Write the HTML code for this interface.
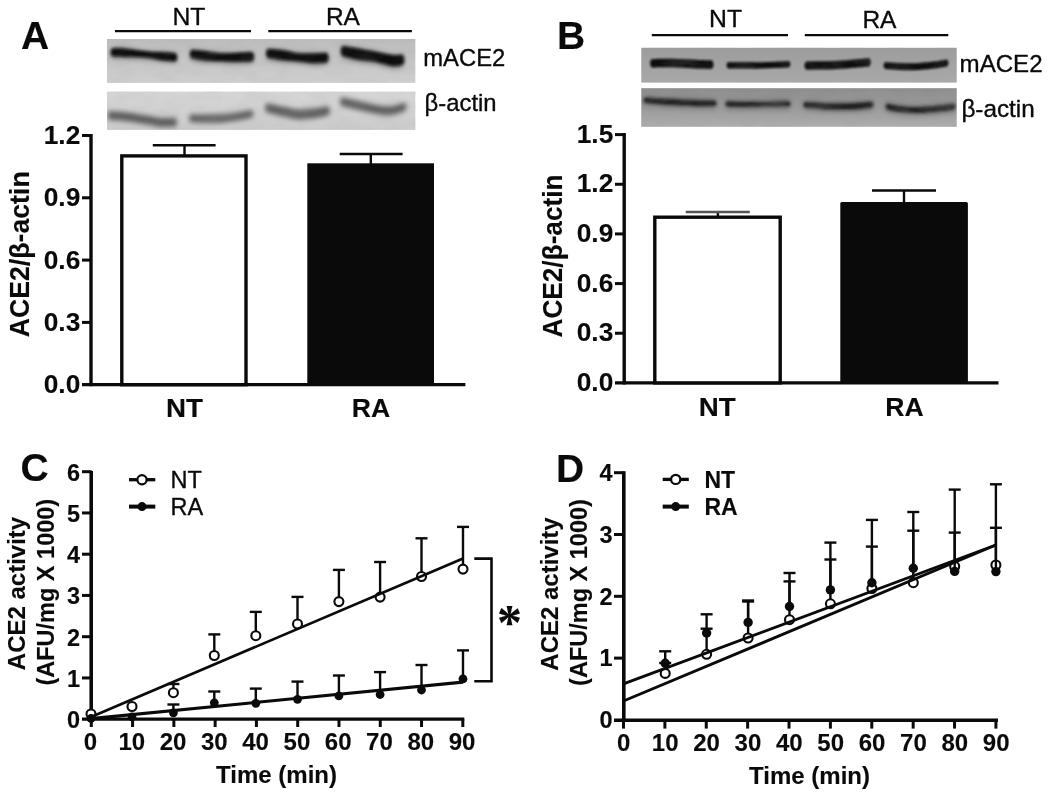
<!DOCTYPE html>
<html lang="en"><head><meta charset="utf-8"><title>ACE2 expression and activity in NT and RA cells</title>
<style>
html,body{margin:0;padding:0;background:#fff;}
body{width:1050px;height:796px;overflow:hidden;font-family:"Liberation Sans",Arial,sans-serif;}
svg{display:block;filter:blur(0.45px);}
</style></head><body>
<svg width="1050" height="796" viewBox="0 0 1050 796" font-family="Liberation Sans, Arial, sans-serif" fill="#0a0a0a">
<style>text{stroke:#0a0a0a;stroke-width:0.35px;stroke-linejoin:round}text[font-weight=bold]{stroke-width:0.12px}</style>
<defs>
<filter id="b1" x="-20%" y="-100%" width="140%" height="300%"><feGaussianBlur stdDeviation="1.6"/></filter>
<filter id="b2" x="-20%" y="-100%" width="140%" height="300%"><feGaussianBlur stdDeviation="2.6"/></filter>
<filter id="b3" x="-20%" y="-100%" width="140%" height="300%"><feGaussianBlur stdDeviation="1.2"/></filter>
<filter id="noise" x="0" y="0" width="100%" height="100%"><feTurbulence type="fractalNoise" baseFrequency="0.045 0.09" numOctaves="3" seed="7" result="t"/><feColorMatrix type="matrix" values="0 0 0 0 0.35  0 0 0 0 0.35  0 0 0 0 0.35  1.6 0 0 0 -0.55"/></filter>
<filter id="soft" x="-5%" y="-5%" width="110%" height="110%"><feGaussianBlur stdDeviation="0.5"/></filter>
<linearGradient id="gA1" x1="0" y1="0" x2="0" y2="1"><stop offset="0" stop-color="#bdbdbd"/><stop offset="1" stop-color="#cfcfcf"/></linearGradient>
<linearGradient id="gA2" x1="0" y1="0" x2="0" y2="1"><stop offset="0" stop-color="#d6d6d6"/><stop offset="1" stop-color="#cccccc"/></linearGradient>
<linearGradient id="gB1" x1="0" y1="0" x2="0" y2="1"><stop offset="0" stop-color="#9c9c9c"/><stop offset="1" stop-color="#a9a9a9"/></linearGradient>
<linearGradient id="gB2" x1="0" y1="0" x2="0" y2="1"><stop offset="0" stop-color="#8c8c8c"/><stop offset="0.5" stop-color="#9a9a9a"/><stop offset="1" stop-color="#aeaeae"/></linearGradient>
<clipPath id="cA1"><rect x="107" y="39" width="308.3" height="43.9"/></clipPath><clipPath id="cA2"><rect x="107" y="91.6" width="308.3" height="38.3"/></clipPath><clipPath id="cB1"><rect x="641.3" y="47.8" width="315.4" height="34.8"/></clipPath><clipPath id="cB2"><rect x="641.3" y="88.2" width="315.4" height="38.6"/></clipPath>
</defs>
<rect width="1050" height="796" fill="#ffffff"/>
<text x="21" y="48.8" font-size="39" font-weight="bold" text-anchor="start" >A</text>
<text x="189" y="24.9" font-size="24.5" text-anchor="middle" textLength="33" lengthAdjust="spacingAndGlyphs" >NT</text>
<text x="342.9" y="25.1" font-size="24.5" text-anchor="middle" >RA</text>
<line x1="115" y1="31.1" x2="251" y2="31.1" stroke="#0a0a0a" stroke-width="2.4" stroke-linecap="butt"/>
<line x1="268.3" y1="31.1" x2="411.9" y2="31.1" stroke="#0a0a0a" stroke-width="2.4" stroke-linecap="butt"/>
<g filter="url(#soft)">
<rect x="107" y="39" width="308.3" height="43.9" fill="url(#gA1)"/>
<rect x="107" y="91.6" width="308.3" height="38.3" fill="url(#gA2)"/>
</g>
<g clip-path="url(#cA1)">
<path d="M112.2,48.0 C114.2,48.0 119.9,47.7 124.0,48.0 C128.1,48.3 132.3,49.2 136.6,49.8 C140.9,50.4 145.9,51.1 150.0,51.4 C154.1,51.7 156.7,51.5 161.0,51.7 C165.3,51.9 173.2,52.5 175.6,52.7 Q178.6,58.1 175.6,63.5 C173.2,63.3 165.3,62.7 161.0,62.1 C156.7,61.5 154.1,60.5 150.0,60.0 C145.9,59.5 140.9,59.4 136.6,59.2 C132.3,59.0 128.1,59.1 124.0,59.0 C119.9,58.9 114.2,58.7 112.2,58.6 Q109.2,53.3 112.2,48.0Z" fill="#3a3a3a" filter="url(#b2)" opacity="0.55"/>
<path d="M112.2,48.5 C114.2,48.5 119.9,48.2 124.0,48.5 C128.1,48.8 132.3,49.6 136.6,50.2 C140.9,50.7 145.9,51.4 150.0,51.7 C154.1,52.0 156.7,51.9 161.0,52.1 C165.3,52.4 173.2,53.0 175.6,53.2 Q178.6,57.2 175.6,61.2 C173.2,61.0 165.3,60.4 161.0,59.9 C156.7,59.3 154.1,58.4 150.0,57.9 C145.9,57.4 140.9,57.2 136.6,57.0 C132.3,56.8 128.1,56.8 124.0,56.7 C119.9,56.6 114.2,56.4 112.2,56.3 Q109.2,52.4 112.2,48.5Z" fill="#0b0b0b" filter="url(#b1)" opacity="1"/>
<path d="M191.5,49.3 C194.0,49.5 201.6,50.2 206.7,50.8 C211.8,51.4 216.9,52.5 222.0,52.8 C227.1,53.1 232.1,52.6 237.2,52.4 C242.3,52.2 249.9,51.9 252.4,51.8 Q255.4,57.7 252.4,63.6 C249.9,63.7 242.3,64.0 237.2,64.0 C232.1,64.0 227.1,63.6 222.0,63.4 C216.9,63.2 211.8,63.5 206.7,63.0 C201.6,62.5 194.0,60.9 191.5,60.5 Q188.5,54.9 191.5,49.3Z" fill="#3a3a3a" filter="url(#b2)" opacity="0.55"/>
<path d="M191.5,49.8 C194.0,50.1 201.6,50.8 206.7,51.4 C211.8,52.0 216.9,53.0 222.0,53.3 C227.1,53.5 232.1,53.1 237.2,52.9 C242.3,52.8 249.9,52.4 252.4,52.3 Q255.4,56.8 252.4,61.3 C249.9,61.3 242.3,61.7 237.2,61.7 C232.1,61.7 227.1,61.3 222.0,61.1 C216.9,61.0 211.8,61.1 206.7,60.6 C201.6,60.1 194.0,58.6 191.5,58.2 Q188.5,54.0 191.5,49.8Z" fill="#0b0b0b" filter="url(#b1)" opacity="1"/>
<path d="M267.7,48.5 C270.2,48.7 277.9,49.0 283.0,49.7 C288.1,50.4 293.1,52.3 298.2,52.8 C303.3,53.3 308.6,52.9 313.4,52.8 C318.2,52.7 324.7,52.4 327.0,52.3 Q330.0,58.5 327.0,64.7 C324.7,64.8 318.2,65.6 313.4,65.4 C308.6,65.2 303.3,64.1 298.2,63.6 C293.1,63.1 288.1,63.1 283.0,62.5 C277.9,61.9 270.2,60.5 267.7,60.1 Q264.7,54.3 267.7,48.5Z" fill="#3a3a3a" filter="url(#b2)" opacity="0.55"/>
<path d="M267.7,49.0 C270.2,49.2 277.9,49.6 283.0,50.3 C288.1,51.0 293.1,52.8 298.2,53.3 C303.3,53.8 308.6,53.5 313.4,53.4 C318.2,53.4 324.7,53.0 327.0,52.9 Q330.0,57.6 327.0,62.3 C324.7,62.4 318.2,63.1 313.4,63.0 C308.6,62.8 303.3,61.8 298.2,61.3 C293.1,60.8 288.1,60.7 283.0,60.1 C277.9,59.5 270.2,58.2 267.7,57.8 Q264.7,53.4 267.7,49.0Z" fill="#0b0b0b" filter="url(#b1)" opacity="1"/>
<path d="M342.4,45.5 C345.2,45.9 353.7,47.2 359.0,48.1 C364.3,49.0 368.8,49.9 374.4,51.0 C380.0,52.1 388.0,54.0 392.7,54.5 C397.4,55.0 401.0,54.2 402.7,54.1 Q405.7,60.7 402.7,67.3 C401.0,67.5 397.4,69.0 392.7,68.5 C388.0,68.0 380.0,65.0 374.4,64.0 C368.8,63.0 364.3,63.2 359.0,62.3 C353.7,61.3 345.2,59.0 342.4,58.3 Q339.4,51.9 342.4,45.5Z" fill="#3a3a3a" filter="url(#b2)" opacity="0.55"/>
<path d="M342.4,46.1 C345.2,46.6 353.7,47.9 359.0,48.8 C364.3,49.8 368.8,50.6 374.4,51.6 C380.0,52.7 388.0,54.7 392.7,55.2 C397.4,55.7 401.0,54.8 402.7,54.8 Q405.7,59.8 402.7,64.8 C401.0,65.0 397.4,66.5 392.7,66.0 C388.0,65.4 380.0,62.6 374.4,61.6 C368.8,60.5 364.3,60.7 359.0,59.8 C353.7,58.8 345.2,56.5 342.4,55.9 Q339.4,51.0 342.4,46.1Z" fill="#0b0b0b" filter="url(#b1)" opacity="1"/>
</g><g clip-path="url(#cA2)">
<path d="M109.0,111.1 C111.5,111.3 119.3,111.6 124.0,112.1 C128.7,112.6 132.7,113.3 137.0,113.9 C141.3,114.5 146.0,115.2 150.0,115.9 C154.0,116.6 156.8,117.6 161.0,117.9 C165.2,118.2 173.1,117.7 175.5,117.7 Q178.5,122.2 175.5,126.7 C173.1,126.7 165.2,127.2 161.0,126.9 C156.8,126.6 154.0,125.6 150.0,124.9 C146.0,124.2 141.3,123.5 137.0,122.9 C132.7,122.3 128.7,121.6 124.0,121.1 C119.3,120.6 111.5,120.3 109.0,120.1 Q106.0,115.6 109.0,111.1Z" fill="#5c5c5c" filter="url(#b2)" opacity="1"/>
<path d="M190.5,114.2 C193.1,114.2 200.8,114.5 206.0,114.5 C211.2,114.5 216.8,114.5 222.0,114.1 C227.2,113.8 232.0,113.1 237.0,112.4 C242.0,111.7 249.5,110.2 252.0,109.8 Q255.0,113.8 252.0,117.8 C249.5,118.3 242.0,120.0 237.0,120.8 C232.0,121.6 227.2,122.3 222.0,122.7 C216.8,123.1 211.2,123.1 206.0,123.1 C200.8,123.1 193.1,122.7 190.5,122.6 Q187.5,118.4 190.5,114.2Z" fill="#626262" filter="url(#b2)" opacity="1"/>
<path d="M266.5,103.0 C269.2,103.6 277.8,105.5 283.0,106.6 C288.2,107.7 293.0,109.1 298.0,109.4 C303.0,109.7 307.9,109.2 313.0,108.6 C318.1,108.0 325.9,106.4 328.5,106.0 Q331.5,110.8 328.5,115.6 C325.9,116.1 318.1,118.0 313.0,118.6 C307.9,119.2 303.0,119.7 298.0,119.4 C293.0,119.1 288.2,117.7 283.0,116.6 C277.8,115.5 269.2,113.3 266.5,112.6 Q263.5,107.8 266.5,103.0Z" fill="#5e5e5e" filter="url(#b2)" opacity="1"/>
<path d="M341.5,97.3 C344.4,97.9 353.6,99.9 359.0,101.1 C364.4,102.3 368.8,103.6 374.0,104.5 C379.2,105.4 384.8,106.6 390.0,106.3 C395.2,106.0 402.5,103.1 405.0,102.5 Q408.0,106.8 405.0,111.1 C402.5,111.8 395.2,114.9 390.0,115.3 C384.8,115.7 379.2,114.4 374.0,113.5 C368.8,112.6 364.4,111.4 359.0,110.1 C353.6,108.8 344.4,106.6 341.5,105.9 Q338.5,101.6 341.5,97.3Z" fill="#5c5c5c" filter="url(#b2)" opacity="1"/>
</g>
<rect x="107" y="39" width="308.3" height="43.9" filter="url(#noise)" opacity="0.16"/>
<rect x="107" y="91.6" width="308.3" height="38.3" filter="url(#noise)" opacity="0.16"/>
<text x="423.3" y="66.4" font-size="24.5" text-anchor="start" textLength="82" lengthAdjust="spacingAndGlyphs" >mACE2</text>
<text x="424.6" y="111" font-size="24.5" text-anchor="start" textLength="72" lengthAdjust="spacingAndGlyphs" >β-actin</text>
<line x1="91" y1="134" x2="91" y2="386.2" stroke="#0a0a0a" stroke-width="3.4" stroke-linecap="butt"/>
<line x1="82" y1="384.7" x2="465.4" y2="384.7" stroke="#0a0a0a" stroke-width="3.2" stroke-linecap="butt"/>
<line x1="82" y1="135.5" x2="91" y2="135.5" stroke="#0a0a0a" stroke-width="3" stroke-linecap="butt"/>
<line x1="82" y1="197.8" x2="91" y2="197.8" stroke="#0a0a0a" stroke-width="3" stroke-linecap="butt"/>
<line x1="82" y1="260.1" x2="91" y2="260.1" stroke="#0a0a0a" stroke-width="3" stroke-linecap="butt"/>
<line x1="82" y1="322.4" x2="91" y2="322.4" stroke="#0a0a0a" stroke-width="3" stroke-linecap="butt"/>
<text x="80.3" y="143.9" font-size="26.3" font-weight="bold" text-anchor="end" >1.2</text>
<text x="80.3" y="206.20000000000002" font-size="26.3" font-weight="bold" text-anchor="end" >0.9</text>
<text x="80.3" y="268.5" font-size="26.3" font-weight="bold" text-anchor="end" >0.6</text>
<text x="80.3" y="330.79999999999995" font-size="26.3" font-weight="bold" text-anchor="end" >0.3</text>
<text x="80.3" y="393.09999999999997" font-size="26.3" font-weight="bold" text-anchor="end" >0.0</text>
<text transform="translate(29,254.3) rotate(-90)" font-size="27" font-weight="bold" text-anchor="middle" textLength="166" lengthAdjust="spacingAndGlyphs">ACE2/β-actin</text>
<rect x="121.8" y="155.9" width="124.2" height="228.8" fill="#fff" stroke="#0a0a0a" stroke-width="3.4"/>
<rect x="307.3" y="163.3" width="126.7" height="221.4" fill="#0a0a0a"/>
<line x1="184.5" y1="145.2" x2="184.5" y2="155" stroke="#0a0a0a" stroke-width="2.4" stroke-linecap="butt"/>
<line x1="152.8" y1="145.2" x2="215.6" y2="145.2" stroke="#0a0a0a" stroke-width="2.4" stroke-linecap="butt"/>
<line x1="370.8" y1="154" x2="370.8" y2="164" stroke="#0a0a0a" stroke-width="2.4" stroke-linecap="butt"/>
<line x1="339.7" y1="154" x2="402.6" y2="154" stroke="#0a0a0a" stroke-width="2.4" stroke-linecap="butt"/>
<text x="184.5" y="416.9" font-size="26.6" font-weight="bold" text-anchor="middle" textLength="37" lengthAdjust="spacingAndGlyphs" >NT</text>
<text x="370.9" y="416.9" font-size="26.6" font-weight="bold" text-anchor="middle" >RA</text>
<text x="557" y="48.6" font-size="39" font-weight="bold" text-anchor="start" >B</text>
<text x="725.6" y="27.3" font-size="24.5" text-anchor="middle" textLength="33" lengthAdjust="spacingAndGlyphs" >NT</text>
<text x="879.4" y="27.5" font-size="24.5" text-anchor="middle" >RA</text>
<line x1="651.8" y1="35.1" x2="788" y2="35.1" stroke="#0a0a0a" stroke-width="2.4" stroke-linecap="butt"/>
<line x1="804.8" y1="35.1" x2="948.3" y2="35.1" stroke="#0a0a0a" stroke-width="2.4" stroke-linecap="butt"/>
<g filter="url(#soft)">
<rect x="641.3" y="47.8" width="315.4" height="34.8" fill="url(#gB1)"/>
<rect x="641.3" y="88.2" width="315.4" height="38.6" fill="url(#gB2)"/>
</g>
<g clip-path="url(#cB1)">
<path d="M651.5,58.9 C653.8,58.9 659.9,58.7 665.0,58.7 C670.1,58.7 676.2,58.9 682.0,59.1 C687.8,59.3 695.0,59.9 700.0,60.1 C705.0,60.3 710.0,60.3 712.0,60.3 Q715.0,64.6 712.0,68.9 C710.0,68.9 705.0,68.9 700.0,68.7 C695.0,68.5 687.8,67.9 682.0,67.7 C676.2,67.5 670.1,67.3 665.0,67.3 C659.9,67.3 653.8,67.5 651.5,67.5 Q648.5,63.2 651.5,58.9Z" fill="#0a0a0a" filter="url(#b3)" opacity="1"/>
<path d="M728.0,62.0 C730.8,62.0 739.7,62.1 745.0,62.1 C750.3,62.1 755.0,62.3 760.0,62.2 C765.0,62.1 770.2,61.9 775.0,61.7 C779.8,61.5 786.7,61.1 789.0,61.0 Q792.0,64.2 789.0,67.4 C786.7,67.5 779.8,67.9 775.0,68.1 C770.2,68.3 765.0,68.5 760.0,68.6 C755.0,68.7 750.3,68.5 745.0,68.5 C739.7,68.5 730.8,68.4 728.0,68.4 Q725.0,65.2 728.0,62.0Z" fill="#0a0a0a" filter="url(#b3)" opacity="1"/>
<path d="M806.0,61.5 C808.7,61.5 816.7,61.4 822.0,61.3 C827.3,61.2 832.5,61.0 838.0,60.7 C843.5,60.4 849.8,59.9 855.0,59.5 C860.2,59.1 867.0,58.5 869.4,58.3 Q872.4,62.4 869.4,66.5 C867.0,66.7 860.2,67.3 855.0,67.7 C849.8,68.1 843.5,68.6 838.0,68.9 C832.5,69.2 827.3,69.4 822.0,69.5 C816.7,69.6 808.7,69.7 806.0,69.7 Q803.0,65.6 806.0,61.5Z" fill="#0a0a0a" filter="url(#b3)" opacity="1"/>
<path d="M885.0,61.9 C887.5,62.1 895.0,62.8 900.0,63.0 C905.0,63.2 909.7,63.4 915.0,63.2 C920.3,63.0 926.7,62.4 932.0,61.8 C937.3,61.2 944.5,59.9 947.0,59.5 Q950.0,63.0 947.0,66.5 C944.5,66.9 937.3,68.2 932.0,68.8 C926.7,69.4 920.3,70.0 915.0,70.2 C909.7,70.4 905.0,70.2 900.0,70.0 C895.0,69.8 887.5,69.1 885.0,68.9 Q882.0,65.4 885.0,61.9Z" fill="#0a0a0a" filter="url(#b3)" opacity="1"/>
</g><g clip-path="url(#cB2)">
<path d="M645.0,95.7 C648.3,95.9 659.2,96.5 665.0,96.8 C670.8,97.2 674.2,97.4 680.0,97.7 C685.8,97.9 694.2,98.3 700.0,98.5 C705.8,98.6 712.5,98.5 715.0,98.5 Q718.0,103.7 715.0,109.0 C712.5,109.0 705.8,109.1 700.0,109.0 C694.2,108.8 685.8,108.4 680.0,108.2 C674.2,107.9 670.8,107.7 665.0,107.3 C659.2,107.0 648.3,106.4 645.0,106.2 Q642.0,100.9 645.0,95.7Z" fill="#4a4a4a" filter="url(#b2)" opacity="0.42"/>
<path d="M727.0,99.2 C730.0,99.3 739.5,99.5 745.0,99.5 C750.5,99.6 755.0,99.5 760.0,99.5 C765.0,99.4 770.2,99.3 775.0,99.2 C779.8,99.2 786.7,99.1 789.0,99.0 Q792.0,104.3 789.0,109.5 C786.7,109.6 779.8,109.7 775.0,109.8 C770.2,109.8 765.0,109.9 760.0,110.0 C755.0,110.0 750.5,110.1 745.0,110.0 C739.5,110.0 730.0,109.8 727.0,109.8 Q724.0,104.5 727.0,99.2Z" fill="#4a4a4a" filter="url(#b2)" opacity="0.42"/>
<path d="M805.0,100.0 C807.8,100.2 816.5,101.0 822.0,101.2 C827.5,101.5 832.5,101.8 838.0,101.8 C843.5,101.9 849.3,101.8 855.0,101.5 C860.7,101.2 869.2,100.3 872.0,100.0 Q875.0,105.3 872.0,110.5 C869.2,110.8 860.7,111.7 855.0,112.0 C849.3,112.2 843.5,112.4 838.0,112.3 C832.5,112.3 827.5,112.0 822.0,111.8 C816.5,111.5 807.8,110.8 805.0,110.5 Q802.0,105.3 805.0,100.0Z" fill="#4a4a4a" filter="url(#b2)" opacity="0.42"/>
<path d="M887.0,102.0 C889.7,102.5 897.5,104.3 903.0,104.8 C908.5,105.4 914.2,105.4 920.0,105.2 C925.8,105.1 932.3,104.4 938.0,103.8 C943.7,103.3 951.3,102.2 954.0,101.8 Q957.0,107.1 954.0,112.3 C951.3,112.7 943.7,113.8 938.0,114.3 C932.3,114.9 925.8,115.6 920.0,115.8 C914.2,115.9 908.5,115.9 903.0,115.3 C897.5,114.8 889.7,113.0 887.0,112.5 Q884.0,107.3 887.0,102.0Z" fill="#4a4a4a" filter="url(#b2)" opacity="0.42"/>
<path d="M645.0,97.6 C648.3,97.8 659.2,98.5 665.0,98.8 C670.8,99.1 674.2,99.3 680.0,99.6 C685.8,99.9 694.2,100.3 700.0,100.4 C705.8,100.5 712.5,100.4 715.0,100.4 Q718.0,103.2 715.0,106.0 C712.5,106.0 705.8,106.1 700.0,106.0 C694.2,105.9 685.8,105.5 680.0,105.2 C674.2,104.9 670.8,104.7 665.0,104.4 C659.2,104.1 648.3,103.4 645.0,103.2 Q642.0,100.4 645.0,97.6Z" fill="#1c1c1c" filter="url(#b1)" opacity="1"/>
<path d="M727.0,101.6 C730.0,101.6 739.5,101.9 745.0,101.9 C750.5,101.9 755.0,101.8 760.0,101.8 C765.0,101.8 770.2,101.7 775.0,101.6 C779.8,101.5 786.7,101.4 789.0,101.4 Q792.0,103.8 789.0,106.2 C786.7,106.2 779.8,106.3 775.0,106.4 C770.2,106.5 765.0,106.6 760.0,106.6 C755.0,106.7 750.5,106.7 745.0,106.7 C739.5,106.7 730.0,106.5 727.0,106.4 Q724.0,104.0 727.0,101.6Z" fill="#222" filter="url(#b1)" opacity="1"/>
<path d="M805.0,101.8 C807.8,102.0 816.5,102.7 822.0,103.0 C827.5,103.3 832.5,103.6 838.0,103.6 C843.5,103.6 849.3,103.5 855.0,103.2 C860.7,102.9 869.2,102.0 872.0,101.8 Q875.0,104.8 872.0,107.8 C869.2,108.0 860.7,108.9 855.0,109.2 C849.3,109.5 843.5,109.6 838.0,109.6 C832.5,109.6 827.5,109.3 822.0,109.0 C816.5,108.7 807.8,108.0 805.0,107.8 Q802.0,104.8 805.0,101.8Z" fill="#1e1e1e" filter="url(#b1)" opacity="1"/>
<path d="M887.0,103.8 C889.7,104.3 897.5,106.1 903.0,106.6 C908.5,107.1 914.2,107.2 920.0,107.0 C925.8,106.8 932.3,106.2 938.0,105.6 C943.7,105.0 951.3,103.9 954.0,103.6 Q957.0,106.6 954.0,109.6 C951.3,109.9 943.7,111.0 938.0,111.6 C932.3,112.2 925.8,112.8 920.0,113.0 C914.2,113.2 908.5,113.1 903.0,112.6 C897.5,112.1 889.7,110.3 887.0,109.8 Q884.0,106.8 887.0,103.8Z" fill="#222" filter="url(#b1)" opacity="1"/>
</g>
<rect x="641.3" y="47.8" width="315.4" height="34.4" filter="url(#noise)" opacity="0.2"/>
<rect x="641.3" y="88.8" width="315.4" height="38" filter="url(#noise)" opacity="0.3"/>
<text x="959.6" y="72.4" font-size="24.5" text-anchor="start" textLength="83" lengthAdjust="spacingAndGlyphs" >mACE2</text>
<text x="961.4" y="117" font-size="24.5" text-anchor="start" textLength="73.4" lengthAdjust="spacingAndGlyphs" >β-actin</text>
<line x1="624.2" y1="133" x2="624.2" y2="384.5" stroke="#0a0a0a" stroke-width="3.4" stroke-linecap="butt"/>
<line x1="615" y1="382.9" x2="998.5" y2="382.9" stroke="#0a0a0a" stroke-width="3.3" stroke-linecap="butt"/>
<line x1="615" y1="333.24" x2="624.2" y2="333.24" stroke="#0a0a0a" stroke-width="3" stroke-linecap="butt"/>
<line x1="615" y1="283.58" x2="624.2" y2="283.58" stroke="#0a0a0a" stroke-width="3" stroke-linecap="butt"/>
<line x1="615" y1="233.92" x2="624.2" y2="233.92" stroke="#0a0a0a" stroke-width="3" stroke-linecap="butt"/>
<line x1="615" y1="184.26" x2="624.2" y2="184.26" stroke="#0a0a0a" stroke-width="3" stroke-linecap="butt"/>
<line x1="615" y1="134.6" x2="624.2" y2="134.6" stroke="#0a0a0a" stroke-width="3" stroke-linecap="butt"/>
<text x="613.3" y="391.09999999999997" font-size="26.3" font-weight="bold" text-anchor="end" >0.0</text>
<text x="613.3" y="341.44" font-size="26.3" font-weight="bold" text-anchor="end" >0.3</text>
<text x="613.3" y="291.78" font-size="26.3" font-weight="bold" text-anchor="end" >0.6</text>
<text x="613.3" y="242.11999999999998" font-size="26.3" font-weight="bold" text-anchor="end" >0.9</text>
<text x="613.3" y="192.45999999999998" font-size="26.3" font-weight="bold" text-anchor="end" >1.2</text>
<text x="613.3" y="142.79999999999998" font-size="26.3" font-weight="bold" text-anchor="end" >1.5</text>
<text transform="translate(561.9,256) rotate(-90)" font-size="27" font-weight="bold" text-anchor="middle" textLength="163" lengthAdjust="spacingAndGlyphs">ACE2/β-actin</text>
<rect x="654.8" y="217.2" width="125.4" height="165.7" fill="#fff" stroke="#0a0a0a" stroke-width="3.4"/>
<rect x="840.3" y="202.1" width="127.6" height="181.5" fill="#0a0a0a" rx="1.5"/>
<line x1="717.9" y1="212" x2="717.9" y2="217" stroke="#0a0a0a" stroke-width="2.4" stroke-linecap="butt"/>
<line x1="685.7" y1="212" x2="749.8" y2="212" stroke="#555" stroke-width="2.4" stroke-linecap="butt"/>
<line x1="904" y1="190.5" x2="904" y2="203" stroke="#0a0a0a" stroke-width="2.4" stroke-linecap="butt"/>
<line x1="872" y1="190.5" x2="936" y2="190.5" stroke="#0a0a0a" stroke-width="2.4" stroke-linecap="butt"/>
<text x="717.3" y="415.6" font-size="26.6" font-weight="bold" text-anchor="middle" textLength="37" lengthAdjust="spacingAndGlyphs" >NT</text>
<text x="904.5" y="415.6" font-size="26.6" font-weight="bold" text-anchor="middle" >RA</text>
<text x="20.5" y="481.3" font-size="39" font-weight="bold" text-anchor="start" >C</text>
<line x1="91.2" y1="471" x2="91.2" y2="720.8" stroke="#0a0a0a" stroke-width="3.6" stroke-linecap="butt"/>
<line x1="82" y1="719.2" x2="464.3" y2="719.2" stroke="#0a0a0a" stroke-width="3.2" stroke-linecap="butt"/>
<line x1="82" y1="677.95" x2="91.7" y2="677.95" stroke="#0a0a0a" stroke-width="3" stroke-linecap="butt"/>
<line x1="82" y1="636.7" x2="91.7" y2="636.7" stroke="#0a0a0a" stroke-width="3" stroke-linecap="butt"/>
<line x1="82" y1="595.45" x2="91.7" y2="595.45" stroke="#0a0a0a" stroke-width="3" stroke-linecap="butt"/>
<line x1="82" y1="554.2" x2="91.7" y2="554.2" stroke="#0a0a0a" stroke-width="3" stroke-linecap="butt"/>
<line x1="82" y1="512.95" x2="91.7" y2="512.95" stroke="#0a0a0a" stroke-width="3" stroke-linecap="butt"/>
<line x1="82" y1="471.70000000000005" x2="91.7" y2="471.70000000000005" stroke="#0a0a0a" stroke-width="3" stroke-linecap="butt"/>
<text x="80.2" y="728.0" font-size="23.5" font-weight="bold" text-anchor="end" >0</text>
<text x="80.2" y="686.75" font-size="23.5" font-weight="bold" text-anchor="end" >1</text>
<text x="80.2" y="645.5" font-size="23.5" font-weight="bold" text-anchor="end" >2</text>
<text x="80.2" y="604.25" font-size="23.5" font-weight="bold" text-anchor="end" >3</text>
<text x="80.2" y="563.0" font-size="23.5" font-weight="bold" text-anchor="end" >4</text>
<text x="80.2" y="521.75" font-size="23.5" font-weight="bold" text-anchor="end" >5</text>
<text x="80.2" y="480.50000000000006" font-size="23.5" font-weight="bold" text-anchor="end" >6</text>
<line x1="91.3" y1="719.2" x2="91.3" y2="727" stroke="#0a0a0a" stroke-width="3" stroke-linecap="butt"/>
<text x="90.5" y="750.4" font-size="24" font-weight="bold" text-anchor="middle" >0</text>
<line x1="132.57999999999998" y1="719.2" x2="132.57999999999998" y2="727" stroke="#0a0a0a" stroke-width="3" stroke-linecap="butt"/>
<text x="131.77999999999997" y="750.4" font-size="24" font-weight="bold" text-anchor="middle" >10</text>
<line x1="173.86" y1="719.2" x2="173.86" y2="727" stroke="#0a0a0a" stroke-width="3" stroke-linecap="butt"/>
<text x="173.06" y="750.4" font-size="24" font-weight="bold" text-anchor="middle" >20</text>
<line x1="215.14" y1="719.2" x2="215.14" y2="727" stroke="#0a0a0a" stroke-width="3" stroke-linecap="butt"/>
<text x="214.33999999999997" y="750.4" font-size="24" font-weight="bold" text-anchor="middle" >30</text>
<line x1="256.42" y1="719.2" x2="256.42" y2="727" stroke="#0a0a0a" stroke-width="3" stroke-linecap="butt"/>
<text x="255.62" y="750.4" font-size="24" font-weight="bold" text-anchor="middle" >40</text>
<line x1="297.7" y1="719.2" x2="297.7" y2="727" stroke="#0a0a0a" stroke-width="3" stroke-linecap="butt"/>
<text x="296.9" y="750.4" font-size="24" font-weight="bold" text-anchor="middle" >50</text>
<line x1="338.98" y1="719.2" x2="338.98" y2="727" stroke="#0a0a0a" stroke-width="3" stroke-linecap="butt"/>
<text x="338.18" y="750.4" font-size="24" font-weight="bold" text-anchor="middle" >60</text>
<line x1="380.26000000000005" y1="719.2" x2="380.26000000000005" y2="727" stroke="#0a0a0a" stroke-width="3" stroke-linecap="butt"/>
<text x="379.46000000000004" y="750.4" font-size="24" font-weight="bold" text-anchor="middle" >70</text>
<line x1="421.54" y1="719.2" x2="421.54" y2="727" stroke="#0a0a0a" stroke-width="3" stroke-linecap="butt"/>
<text x="420.74" y="750.4" font-size="24" font-weight="bold" text-anchor="middle" >80</text>
<line x1="462.82" y1="719.2" x2="462.82" y2="727" stroke="#0a0a0a" stroke-width="3" stroke-linecap="butt"/>
<text x="462.02" y="750.4" font-size="24" font-weight="bold" text-anchor="middle" >90</text>
<text x="276.5" y="782.6" font-size="24" font-weight="bold" text-anchor="middle" >Time (min)</text>
<text transform="translate(25.3,593.5) rotate(-90)" font-size="24" font-weight="bold" text-anchor="middle">ACE2 activity</text>
<text transform="translate(53.5,592.2) rotate(-90)" font-size="23.5" font-weight="bold" text-anchor="middle">(AFU/mg X 1000)</text>
<line x1="129" y1="479.7" x2="155.3" y2="479.7" stroke="#0a0a0a" stroke-width="3.3" stroke-linecap="butt"/>
<circle cx="142" cy="479.7" r="4.6" fill="#fff" stroke="#0a0a0a" stroke-width="2.2"/>
<text x="170.5" y="488" font-size="23.5" text-anchor="start" >NT</text>
<line x1="129" y1="506.6" x2="155.3" y2="506.6" stroke="#0a0a0a" stroke-width="4" stroke-linecap="butt"/>
<circle cx="142" cy="506.6" r="4.5" fill="#0a0a0a"/>
<text x="170.5" y="515" font-size="23.5" text-anchor="start" >RA</text>
<line x1="173.4" y1="692.7" x2="173.4" y2="684" stroke="#0a0a0a" stroke-width="2.4" stroke-linecap="butt"/>
<line x1="167.4" y1="684" x2="179.4" y2="684" stroke="#0a0a0a" stroke-width="2.4" stroke-linecap="butt"/>
<line x1="214.3" y1="655.5" x2="214.3" y2="634.4" stroke="#0a0a0a" stroke-width="2.4" stroke-linecap="butt"/>
<line x1="208.3" y1="634.4" x2="220.3" y2="634.4" stroke="#0a0a0a" stroke-width="2.4" stroke-linecap="butt"/>
<line x1="255.8" y1="635.7" x2="255.8" y2="611.9" stroke="#0a0a0a" stroke-width="2.4" stroke-linecap="butt"/>
<line x1="249.8" y1="611.9" x2="261.8" y2="611.9" stroke="#0a0a0a" stroke-width="2.4" stroke-linecap="butt"/>
<line x1="297.5" y1="624" x2="297.5" y2="596.9" stroke="#0a0a0a" stroke-width="2.4" stroke-linecap="butt"/>
<line x1="291.5" y1="596.9" x2="303.5" y2="596.9" stroke="#0a0a0a" stroke-width="2.4" stroke-linecap="butt"/>
<line x1="338.9" y1="601.6" x2="338.9" y2="569.9" stroke="#0a0a0a" stroke-width="2.4" stroke-linecap="butt"/>
<line x1="332.9" y1="569.9" x2="344.9" y2="569.9" stroke="#0a0a0a" stroke-width="2.4" stroke-linecap="butt"/>
<line x1="380.1" y1="597.1" x2="380.1" y2="562" stroke="#0a0a0a" stroke-width="2.4" stroke-linecap="butt"/>
<line x1="374.1" y1="562" x2="386.1" y2="562" stroke="#0a0a0a" stroke-width="2.4" stroke-linecap="butt"/>
<line x1="421.5" y1="576.5" x2="421.5" y2="538.3" stroke="#0a0a0a" stroke-width="2.4" stroke-linecap="butt"/>
<line x1="415.5" y1="538.3" x2="427.5" y2="538.3" stroke="#0a0a0a" stroke-width="2.4" stroke-linecap="butt"/>
<line x1="463" y1="569.1" x2="463" y2="526.9" stroke="#0a0a0a" stroke-width="2.4" stroke-linecap="butt"/>
<line x1="457.0" y1="526.9" x2="469.0" y2="526.9" stroke="#0a0a0a" stroke-width="2.4" stroke-linecap="butt"/>
<line x1="173.4" y1="712.8" x2="173.4" y2="704.5" stroke="#0a0a0a" stroke-width="2.4" stroke-linecap="butt"/>
<line x1="167.4" y1="704.5" x2="179.4" y2="704.5" stroke="#0a0a0a" stroke-width="2.4" stroke-linecap="butt"/>
<line x1="214.3" y1="702.8" x2="214.3" y2="691.5" stroke="#0a0a0a" stroke-width="2.4" stroke-linecap="butt"/>
<line x1="208.3" y1="691.5" x2="220.3" y2="691.5" stroke="#0a0a0a" stroke-width="2.4" stroke-linecap="butt"/>
<line x1="255.8" y1="703.3" x2="255.8" y2="688.6" stroke="#0a0a0a" stroke-width="2.4" stroke-linecap="butt"/>
<line x1="249.8" y1="688.6" x2="261.8" y2="688.6" stroke="#0a0a0a" stroke-width="2.4" stroke-linecap="butt"/>
<line x1="297.5" y1="699.3" x2="297.5" y2="681.6" stroke="#0a0a0a" stroke-width="2.4" stroke-linecap="butt"/>
<line x1="291.5" y1="681.6" x2="303.5" y2="681.6" stroke="#0a0a0a" stroke-width="2.4" stroke-linecap="butt"/>
<line x1="338.9" y1="695.8" x2="338.9" y2="675.5" stroke="#0a0a0a" stroke-width="2.4" stroke-linecap="butt"/>
<line x1="332.9" y1="675.5" x2="344.9" y2="675.5" stroke="#0a0a0a" stroke-width="2.4" stroke-linecap="butt"/>
<line x1="380.1" y1="694.5" x2="380.1" y2="672.1" stroke="#0a0a0a" stroke-width="2.4" stroke-linecap="butt"/>
<line x1="374.1" y1="672.1" x2="386.1" y2="672.1" stroke="#0a0a0a" stroke-width="2.4" stroke-linecap="butt"/>
<line x1="421.5" y1="690" x2="421.5" y2="665" stroke="#0a0a0a" stroke-width="2.4" stroke-linecap="butt"/>
<line x1="415.5" y1="665" x2="427.5" y2="665" stroke="#0a0a0a" stroke-width="2.4" stroke-linecap="butt"/>
<line x1="463" y1="678.9" x2="463" y2="650.4" stroke="#0a0a0a" stroke-width="2.4" stroke-linecap="butt"/>
<line x1="457.0" y1="650.4" x2="469.0" y2="650.4" stroke="#0a0a0a" stroke-width="2.4" stroke-linecap="butt"/>
<circle cx="91" cy="714" r="4.5" fill="#fff" stroke="#0a0a0a" stroke-width="2.1"/>
<circle cx="132" cy="706.5" r="4.5" fill="#fff" stroke="#0a0a0a" stroke-width="2.1"/>
<circle cx="173.4" cy="692.7" r="4.5" fill="#fff" stroke="#0a0a0a" stroke-width="2.1"/>
<circle cx="214.3" cy="655.5" r="4.5" fill="#fff" stroke="#0a0a0a" stroke-width="2.1"/>
<circle cx="255.8" cy="635.7" r="4.5" fill="#fff" stroke="#0a0a0a" stroke-width="2.1"/>
<circle cx="297.5" cy="624" r="4.5" fill="#fff" stroke="#0a0a0a" stroke-width="2.1"/>
<circle cx="338.9" cy="601.6" r="4.5" fill="#fff" stroke="#0a0a0a" stroke-width="2.1"/>
<circle cx="380.1" cy="597.1" r="4.5" fill="#fff" stroke="#0a0a0a" stroke-width="2.1"/>
<circle cx="421.5" cy="576.5" r="4.5" fill="#fff" stroke="#0a0a0a" stroke-width="2.1"/>
<circle cx="463" cy="569.1" r="4.5" fill="#fff" stroke="#0a0a0a" stroke-width="2.1"/>
<circle cx="91" cy="718.5" r="4.4" fill="#0a0a0a"/>
<circle cx="132" cy="717" r="4.4" fill="#0a0a0a"/>
<circle cx="173.4" cy="712.8" r="4.4" fill="#0a0a0a"/>
<circle cx="214.3" cy="702.8" r="4.4" fill="#0a0a0a"/>
<circle cx="255.8" cy="703.3" r="4.4" fill="#0a0a0a"/>
<circle cx="297.5" cy="699.3" r="4.4" fill="#0a0a0a"/>
<circle cx="338.9" cy="695.8" r="4.4" fill="#0a0a0a"/>
<circle cx="380.1" cy="694.5" r="4.4" fill="#0a0a0a"/>
<circle cx="421.5" cy="690" r="4.4" fill="#0a0a0a"/>
<circle cx="463" cy="678.9" r="4.4" fill="#0a0a0a"/>
<line x1="91" y1="717" x2="463" y2="558.4" stroke="#0a0a0a" stroke-width="2.7" stroke-linecap="butt"/>
<line x1="91" y1="718.6" x2="463" y2="682.1" stroke="#0a0a0a" stroke-width="3.1" stroke-linecap="butt"/>
<path d="M474.3,558.6 H491.5 V681.3 H474.3" fill="none" stroke="#0a0a0a" stroke-width="2.6"/>
<text x="509.5" y="639.2" font-size="50" font-weight="bold" text-anchor="middle" font-family="Liberation Serif, Times New Roman, serif">*</text>
<text x="556" y="482" font-size="39" font-weight="bold" text-anchor="start" >D</text>
<line x1="623.8" y1="471.2" x2="623.8" y2="721.5" stroke="#0a0a0a" stroke-width="3.6" stroke-linecap="butt"/>
<line x1="614" y1="720.2" x2="998" y2="720.2" stroke="#0a0a0a" stroke-width="3.6" stroke-linecap="butt"/>
<line x1="614" y1="658.1" x2="623.5" y2="658.1" stroke="#0a0a0a" stroke-width="3" stroke-linecap="butt"/>
<line x1="614" y1="596.3" x2="623.5" y2="596.3" stroke="#0a0a0a" stroke-width="3" stroke-linecap="butt"/>
<line x1="614" y1="534.5" x2="623.5" y2="534.5" stroke="#0a0a0a" stroke-width="3" stroke-linecap="butt"/>
<line x1="614" y1="472.7" x2="623.5" y2="472.7" stroke="#0a0a0a" stroke-width="3" stroke-linecap="butt"/>
<text x="612.5" y="728.1999999999999" font-size="23.5" font-weight="bold" text-anchor="end" >0</text>
<text x="612.5" y="666.4" font-size="23.5" font-weight="bold" text-anchor="end" >1</text>
<text x="612.5" y="604.5999999999999" font-size="23.5" font-weight="bold" text-anchor="end" >2</text>
<text x="612.5" y="542.8" font-size="23.5" font-weight="bold" text-anchor="end" >3</text>
<text x="612.5" y="481.0" font-size="23.5" font-weight="bold" text-anchor="end" >4</text>
<line x1="623.5" y1="719.9" x2="623.5" y2="728.6" stroke="#0a0a0a" stroke-width="3" stroke-linecap="butt"/>
<text x="623.8" y="751" font-size="24" font-weight="bold" text-anchor="middle" >0</text>
<line x1="664.88" y1="719.9" x2="664.88" y2="728.6" stroke="#0a0a0a" stroke-width="3" stroke-linecap="butt"/>
<text x="665.18" y="751" font-size="24" font-weight="bold" text-anchor="middle" >10</text>
<line x1="706.26" y1="719.9" x2="706.26" y2="728.6" stroke="#0a0a0a" stroke-width="3" stroke-linecap="butt"/>
<text x="706.56" y="751" font-size="24" font-weight="bold" text-anchor="middle" >20</text>
<line x1="747.64" y1="719.9" x2="747.64" y2="728.6" stroke="#0a0a0a" stroke-width="3" stroke-linecap="butt"/>
<text x="747.9399999999999" y="751" font-size="24" font-weight="bold" text-anchor="middle" >30</text>
<line x1="789.02" y1="719.9" x2="789.02" y2="728.6" stroke="#0a0a0a" stroke-width="3" stroke-linecap="butt"/>
<text x="789.3199999999999" y="751" font-size="24" font-weight="bold" text-anchor="middle" >40</text>
<line x1="830.4" y1="719.9" x2="830.4" y2="728.6" stroke="#0a0a0a" stroke-width="3" stroke-linecap="butt"/>
<text x="830.6999999999999" y="751" font-size="24" font-weight="bold" text-anchor="middle" >50</text>
<line x1="871.78" y1="719.9" x2="871.78" y2="728.6" stroke="#0a0a0a" stroke-width="3" stroke-linecap="butt"/>
<text x="872.0799999999999" y="751" font-size="24" font-weight="bold" text-anchor="middle" >60</text>
<line x1="913.16" y1="719.9" x2="913.16" y2="728.6" stroke="#0a0a0a" stroke-width="3" stroke-linecap="butt"/>
<text x="913.4599999999999" y="751" font-size="24" font-weight="bold" text-anchor="middle" >70</text>
<line x1="954.54" y1="719.9" x2="954.54" y2="728.6" stroke="#0a0a0a" stroke-width="3" stroke-linecap="butt"/>
<text x="954.8399999999999" y="751" font-size="24" font-weight="bold" text-anchor="middle" >80</text>
<line x1="995.9200000000001" y1="719.9" x2="995.9200000000001" y2="728.6" stroke="#0a0a0a" stroke-width="3" stroke-linecap="butt"/>
<text x="996.22" y="751" font-size="24" font-weight="bold" text-anchor="middle" >90</text>
<text x="809.5" y="783.6" font-size="24" font-weight="bold" text-anchor="middle" >Time (min)</text>
<text transform="translate(557.5,594) rotate(-90)" font-size="24" font-weight="bold" text-anchor="middle">ACE2 activity</text>
<text transform="translate(587,592.5) rotate(-90)" font-size="23.5" font-weight="bold" text-anchor="middle">(AFU/mg X 1000)</text>
<line x1="662.7" y1="479.4" x2="688.8" y2="479.4" stroke="#0a0a0a" stroke-width="3.3" stroke-linecap="butt"/>
<circle cx="675.7" cy="479.4" r="4.6" fill="#fff" stroke="#0a0a0a" stroke-width="2.2"/>
<text x="704.5" y="487.5" font-size="23" font-weight="bold" text-anchor="start" >NT</text>
<line x1="662.7" y1="506.6" x2="688.8" y2="506.6" stroke="#0a0a0a" stroke-width="4" stroke-linecap="butt"/>
<circle cx="675.7" cy="506.6" r="4.5" fill="#0a0a0a"/>
<text x="704.5" y="514.8" font-size="23" font-weight="bold" text-anchor="start" >RA</text>
<line x1="665.2" y1="673.4" x2="665.2" y2="663" stroke="#0a0a0a" stroke-width="2.4" stroke-linecap="butt"/>
<line x1="659.2" y1="663" x2="671.2" y2="663" stroke="#0a0a0a" stroke-width="2.4" stroke-linecap="butt"/>
<line x1="706.6" y1="654.3" x2="706.6" y2="628.7" stroke="#0a0a0a" stroke-width="2.4" stroke-linecap="butt"/>
<line x1="700.6" y1="628.7" x2="712.6" y2="628.7" stroke="#0a0a0a" stroke-width="2.4" stroke-linecap="butt"/>
<line x1="748.1" y1="638" x2="748.1" y2="601.5" stroke="#0a0a0a" stroke-width="2.4" stroke-linecap="butt"/>
<line x1="742.1" y1="601.5" x2="754.1" y2="601.5" stroke="#0a0a0a" stroke-width="2.4" stroke-linecap="butt"/>
<line x1="789.5" y1="619.7" x2="789.5" y2="581.4" stroke="#0a0a0a" stroke-width="2.4" stroke-linecap="butt"/>
<line x1="783.5" y1="581.4" x2="795.5" y2="581.4" stroke="#0a0a0a" stroke-width="2.4" stroke-linecap="butt"/>
<line x1="830.4" y1="603.8" x2="830.4" y2="559.5" stroke="#0a0a0a" stroke-width="2.4" stroke-linecap="butt"/>
<line x1="824.4" y1="559.5" x2="836.4" y2="559.5" stroke="#0a0a0a" stroke-width="2.4" stroke-linecap="butt"/>
<line x1="871.9" y1="588.5" x2="871.9" y2="546.6" stroke="#0a0a0a" stroke-width="2.4" stroke-linecap="butt"/>
<line x1="865.9" y1="546.6" x2="877.9" y2="546.6" stroke="#0a0a0a" stroke-width="2.4" stroke-linecap="butt"/>
<line x1="913.3" y1="582.7" x2="913.3" y2="530.7" stroke="#0a0a0a" stroke-width="2.4" stroke-linecap="butt"/>
<line x1="907.3" y1="530.7" x2="919.3" y2="530.7" stroke="#0a0a0a" stroke-width="2.4" stroke-linecap="butt"/>
<line x1="954.7" y1="566.4" x2="954.7" y2="532.6" stroke="#0a0a0a" stroke-width="2.4" stroke-linecap="butt"/>
<line x1="948.7" y1="532.6" x2="960.7" y2="532.6" stroke="#0a0a0a" stroke-width="2.4" stroke-linecap="butt"/>
<line x1="995.9" y1="565" x2="995.9" y2="527.8" stroke="#0a0a0a" stroke-width="2.4" stroke-linecap="butt"/>
<line x1="989.9" y1="527.8" x2="1001.9" y2="527.8" stroke="#0a0a0a" stroke-width="2.4" stroke-linecap="butt"/>
<circle cx="665.2" cy="673.4" r="4.5" fill="#fff" stroke="#0a0a0a" stroke-width="2.1"/>
<circle cx="706.6" cy="654.3" r="4.5" fill="#fff" stroke="#0a0a0a" stroke-width="2.1"/>
<circle cx="748.1" cy="638" r="4.5" fill="#fff" stroke="#0a0a0a" stroke-width="2.1"/>
<circle cx="789.5" cy="619.7" r="4.5" fill="#fff" stroke="#0a0a0a" stroke-width="2.1"/>
<circle cx="830.4" cy="603.8" r="4.5" fill="#fff" stroke="#0a0a0a" stroke-width="2.1"/>
<circle cx="871.9" cy="588.5" r="4.5" fill="#fff" stroke="#0a0a0a" stroke-width="2.1"/>
<circle cx="913.3" cy="582.7" r="4.5" fill="#fff" stroke="#0a0a0a" stroke-width="2.1"/>
<circle cx="954.7" cy="566.4" r="4.5" fill="#fff" stroke="#0a0a0a" stroke-width="2.1"/>
<circle cx="995.9" cy="565" r="4.5" fill="#fff" stroke="#0a0a0a" stroke-width="2.1"/>
<line x1="665.2" y1="663.3" x2="665.2" y2="651.3" stroke="#0a0a0a" stroke-width="2.4" stroke-linecap="butt"/>
<line x1="659.2" y1="651.3" x2="671.2" y2="651.3" stroke="#0a0a0a" stroke-width="2.4" stroke-linecap="butt"/>
<line x1="706.6" y1="633" x2="706.6" y2="614.3" stroke="#0a0a0a" stroke-width="2.4" stroke-linecap="butt"/>
<line x1="700.6" y1="614.3" x2="712.6" y2="614.3" stroke="#0a0a0a" stroke-width="2.4" stroke-linecap="butt"/>
<line x1="748.1" y1="622.4" x2="748.1" y2="600.5" stroke="#0a0a0a" stroke-width="2.4" stroke-linecap="butt"/>
<line x1="742.1" y1="600.5" x2="754.1" y2="600.5" stroke="#0a0a0a" stroke-width="2.4" stroke-linecap="butt"/>
<line x1="789.5" y1="606.5" x2="789.5" y2="573" stroke="#0a0a0a" stroke-width="2.4" stroke-linecap="butt"/>
<line x1="783.5" y1="573" x2="795.5" y2="573" stroke="#0a0a0a" stroke-width="2.4" stroke-linecap="butt"/>
<line x1="830.4" y1="589.9" x2="830.4" y2="542.6" stroke="#0a0a0a" stroke-width="2.4" stroke-linecap="butt"/>
<line x1="824.4" y1="542.6" x2="836.4" y2="542.6" stroke="#0a0a0a" stroke-width="2.4" stroke-linecap="butt"/>
<line x1="871.9" y1="582.7" x2="871.9" y2="519.9" stroke="#0a0a0a" stroke-width="2.4" stroke-linecap="butt"/>
<line x1="865.9" y1="519.9" x2="877.9" y2="519.9" stroke="#0a0a0a" stroke-width="2.4" stroke-linecap="butt"/>
<line x1="913.3" y1="568.2" x2="913.3" y2="512" stroke="#0a0a0a" stroke-width="2.4" stroke-linecap="butt"/>
<line x1="907.3" y1="512" x2="919.3" y2="512" stroke="#0a0a0a" stroke-width="2.4" stroke-linecap="butt"/>
<line x1="954.7" y1="571.4" x2="954.7" y2="489.6" stroke="#0a0a0a" stroke-width="2.4" stroke-linecap="butt"/>
<line x1="948.7" y1="489.6" x2="960.7" y2="489.6" stroke="#0a0a0a" stroke-width="2.4" stroke-linecap="butt"/>
<line x1="995.9" y1="571.6" x2="995.9" y2="484.3" stroke="#0a0a0a" stroke-width="2.4" stroke-linecap="butt"/>
<line x1="989.9" y1="484.3" x2="1001.9" y2="484.3" stroke="#0a0a0a" stroke-width="2.4" stroke-linecap="butt"/>
<circle cx="665.2" cy="663.3" r="4.7" fill="#0a0a0a"/>
<circle cx="706.6" cy="633" r="4.7" fill="#0a0a0a"/>
<circle cx="748.1" cy="622.4" r="4.7" fill="#0a0a0a"/>
<circle cx="789.5" cy="606.5" r="4.7" fill="#0a0a0a"/>
<circle cx="830.4" cy="589.9" r="4.7" fill="#0a0a0a"/>
<circle cx="871.9" cy="582.7" r="4.7" fill="#0a0a0a"/>
<circle cx="913.3" cy="568.2" r="4.7" fill="#0a0a0a"/>
<circle cx="954.7" cy="571.4" r="4.7" fill="#0a0a0a"/>
<circle cx="995.9" cy="571.6" r="4.7" fill="#0a0a0a"/>
<line x1="623.5" y1="683.9" x2="995.9" y2="545" stroke="#0a0a0a" stroke-width="2.9" stroke-linecap="butt"/>
<line x1="623.5" y1="701" x2="995.9" y2="545" stroke="#0a0a0a" stroke-width="2.9" stroke-linecap="butt"/>
</svg>
</body></html>
